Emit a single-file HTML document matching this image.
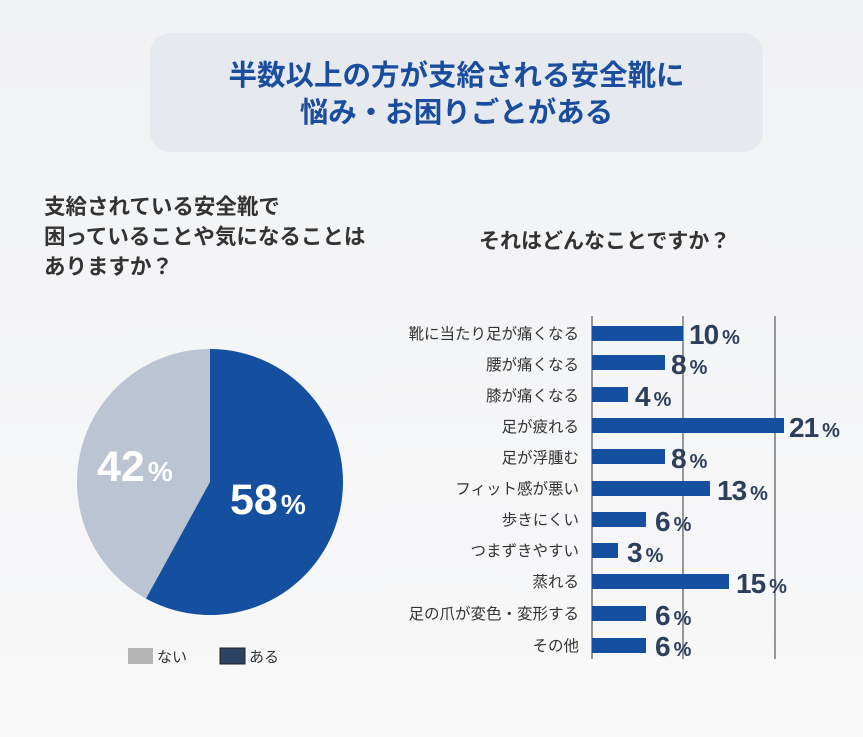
<!DOCTYPE html><html><head><meta charset="utf-8"><style>
body{margin:0;width:863px;height:737px;background:linear-gradient(180deg,#f1f2f4,#f8f8f9);font-family:"Liberation Sans","Noto Sans CJK JP",sans-serif;position:relative;overflow:hidden}
.box{position:absolute;left:150px;top:33px;width:613px;height:119px;border-radius:20px;background:#e6e9ee;color:#1a4d9e;font-weight:bold;font-size:28.5px;text-align:center;line-height:37px;padding-top:25px;box-sizing:border-box;white-space:nowrap}
.q{position:absolute;color:#333;font-weight:bold;font-size:21.5px;line-height:30px;white-space:nowrap}
</style></head><body>
<div class="box">半数以上の方が支給される安全靴に<br>悩み・お困りごとがある</div>
<div class="q" style="left:44px;top:192px">支給されている安全靴で<br>困っていることや気になることは<br>ありますか？</div>
<div class="q" style="left:479px;top:227px;font-size:21px">それはどんなことですか？</div>
<svg width="863" height="737" style="position:absolute;left:0;top:0" font-family="Liberation Sans,Noto Sans CJK JP,sans-serif">
<circle cx="210" cy="482" r="133" fill="#bac4d3"/>
<path d="M210 482 L210 349 A133 133 0 1 1 146 598.6 Z" fill="#154fa0"/>
<text x="97" y="481" fill="#fff" font-size="43" font-weight="bold">42<tspan dx="3" font-size="28">%</tspan></text>
<text x="230" y="514" fill="#fff" font-size="43" font-weight="bold">58<tspan dx="3" font-size="28">%</tspan></text>
<rect x="128" y="648" width="25" height="16" fill="#b5b5b5"/><text x="157" y="662" font-size="15" fill="#333">ない</text>
<rect x="220" y="648" width="25" height="16" fill="#2c4361" stroke="#222" stroke-width="1"/><text x="249" y="662" font-size="15" fill="#333">ある</text>
<g stroke="#777" stroke-width="1.5"><line x1="592" y1="316" x2="592" y2="659"/><line x1="683" y1="316" x2="683" y2="659"/><line x1="775" y1="316" x2="775" y2="659"/></g>
<g font-size="15.5" fill="#333" text-anchor="end">
<text x="579" y="339">靴に当たり足が痛くなる</text><text x="579" y="370">腰が痛くなる</text><text x="579" y="401">膝が痛くなる</text><text x="579" y="432">足が疲れる</text><text x="579" y="463">足が浮腫む</text><text x="579" y="494">フィット感が悪い</text><text x="579" y="525">歩きにくい</text><text x="579" y="556">つまずきやすい</text><text x="579" y="587">蒸れる</text><text x="579" y="619">足の爪が変色・変形する</text><text x="579" y="651">その他</text></g>
<g fill="#154fa0">
<rect x="592" y="326" width="91" height="15"/><rect x="592" y="355" width="73" height="15"/><rect x="592" y="387" width="36" height="15"/><rect x="592" y="418" width="192" height="15"/><rect x="592" y="449" width="73" height="15"/><rect x="592" y="481" width="118" height="15"/><rect x="592" y="512" width="54" height="15"/><rect x="592" y="543" width="26" height="15"/><rect x="592" y="574" width="137" height="15"/><rect x="592" y="606" width="54" height="15"/><rect x="592" y="638" width="54" height="15"/></g>
<g font-size="28" font-weight="bold" fill="#2d3f5c" letter-spacing="-1">
<text x="689" y="344">10<tspan dx="4" font-size="20">%</tspan></text><text x="671" y="374">8<tspan dx="4" font-size="20">%</tspan></text><text x="635" y="406">4<tspan dx="4" font-size="20">%</tspan></text><text x="789" y="437">21<tspan dx="4" font-size="20">%</tspan></text><text x="671" y="468">8<tspan dx="4" font-size="20">%</tspan></text><text x="717" y="500">13<tspan dx="4" font-size="20">%</tspan></text><text x="655" y="531">6<tspan dx="4" font-size="20">%</tspan></text><text x="627" y="562">3<tspan dx="4" font-size="20">%</tspan></text><text x="736" y="593">15<tspan dx="4" font-size="20">%</tspan></text><text x="655" y="625">6<tspan dx="4" font-size="20">%</tspan></text><text x="655" y="656">6<tspan dx="4" font-size="20">%</tspan></text></g>
</svg>
</body></html>
